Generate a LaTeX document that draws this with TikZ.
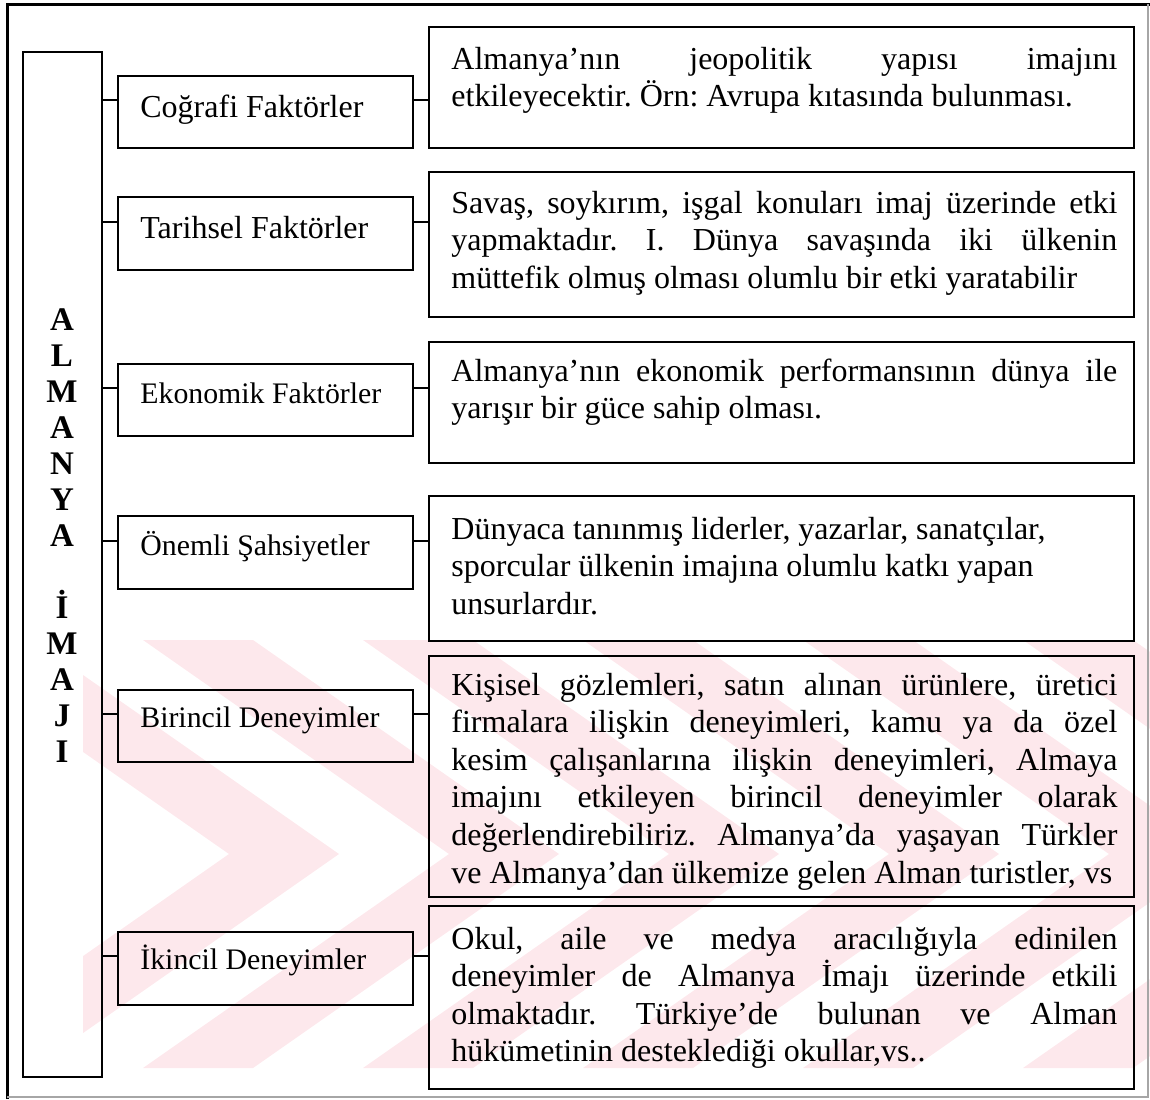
\documentclass[tikz,border=0pt]{standalone}
\usepackage{fontspec}
\setmainfont{Liberation Serif}
\usetikzlibrary{fit}
\definecolor{wmark}{RGB}{253,232,236}
\newlength\bw
\setlength\bw{333pt}
% one justified line of a text box
\newcommand\jl[1]{\makebox[\bw][s]{\spaceskip=0pt\xspaceskip=0pt\relax #1}}

\begin{document}
\begin{tikzpicture}[x=0.5pt,y=-0.5pt,
  frame/.style={draw, line width=1.4pt, inner sep=0pt},
  stub/.style={line width=1.1pt},
  outer/.style={line width=1.5pt},
  lbl/.style={anchor=base west, inner sep=0pt, font=\fontsize{16}{18.8}\selectfont},
  lbls/.style={anchor=base west, inner sep=0pt, font=\fontsize{14.9}{18}\selectfont},
  body/.style={anchor=base west, inner sep=0pt, text width=345pt, align=left,
               font=\fontsize{16}{18.8}\selectfont\frenchspacing,
               execute at begin node={\spaceskip=0pt\xspaceskip=0pt\frenchspacing}},
  vl/.style={anchor=base, inner sep=0pt, font=\fontsize{16.5}{16.5}\selectfont\bfseries}]
\useasboundingbox (0,0) rectangle (1150,1099);

% pale chevron band pattern at the foot of the page
\begin{scope}
  \clip (83,640) rectangle (1150,1068);
  \foreach \a in {33,253,473,693,913,1133}
    \fill[wmark] (\a,640) -- (\a+306,854) -- (\a,1068) -- (\a-110,1068)
                 -- (\a+196,854) -- (\a-110,640) -- cycle;
\end{scope}

% outer frame
\draw[outer] (7,1099) -- (7,4) -- (1150,4);
\draw[line width=0.8pt, black!35] (1148,4) -- (1148,1097) -- (7,1097);

% title column
\node[frame, fit={(23,52) (102,1077)}] (L) {};
\foreach \ch [count=\i] in {A,L,M,A,N,Y,A,{},İ,M,A,J,I}
  \node[vl] (v\i) at (62,330+36*\i-36) {\ch};

% factor boxes
\node[frame, fit={(118,76) (413,148)}]  (m1) {};
\node[frame, fit={(118,197) (413,270)}] (m2) {};
\node[frame, fit={(118,364) (413,436)}] (m3) {};
\node[frame, fit={(118,516) (413,589)}] (m4) {};
\node[frame, fit={(118,690) (413,762)}] (m5) {};
\node[frame, fit={(118,932) (413,1005)}] (m6) {};

\node[lbl]  (n1) at (140,117) {Coğrafi Faktörler};
\node[lbl]  (n2) at (140,238) {Tarihsel Faktörler};
\node[lbls] (n3) at (140,403) {Ekonomik Faktörler};
\node[lbls] (n4) at (140,555) {Önemli Şahsiyetler};
\node[lbls] (n5) at (140,727) {Birincil Deneyimler};
\node[lbls] (n6) at (140,969) {İkincil Deneyimler};

% description boxes
\node[frame, fit={(429,27) (1134,148)}]  (r1) {};
\node[frame, fit={(429,172) (1134,317)}] (r2) {};
\node[frame, fit={(429,342) (1134,463)}] (r3) {};
\node[frame, fit={(429,496) (1134,641)}] (r4) {};
\node[frame, fit={(429,656) (1134,897)}] (r5) {};
\node[frame, fit={(429,906) (1134,1089)}] (r6) {};

\node[body] (t1) at (451,69) {\jl{Almanya’nın jeopolitik yapısı imajını}\\
  etkileyecektir. Örn: Avrupa kıtasında bulunması.};
\node[body] (t2) at (451,213) {\jl{Savaş, soykırım, işgal konuları imaj üzerinde etki}\\
  \jl{yapmaktadır. I. Dünya savaşında iki ülkenin}\\
  müttefik olmuş olması olumlu bir etki yaratabilir};
\node[body] (t3) at (451,381) {\jl{Almanya’nın ekonomik performansının dünya ile}\\
  yarışır bir güce sahip olması.};
\node[body] (t4) at (451,539) {Dünyaca tanınmış liderler, yazarlar, sanatçılar,\\
  sporcular ülkenin imajına olumlu katkı yapan\\
  unsurlardır.};
\node[body] (t5) at (451,695) {\jl{Kişisel gözlemleri, satın alınan ürünlere, üretici}\\
  \jl{firmalara ilişkin deneyimleri, kamu ya da özel}\\
  \jl{kesim çalışanlarına ilişkin deneyimleri, Almaya}\\
  \jl{imajını etkileyen birincil deneyimler olarak}\\
  \jl{değerlendirebiliriz. Almanya’da yaşayan Türkler}\\
  ve Almanya’dan ülkemize gelen Alman turistler, vs};
\node[body] (t6) at (451,949) {\jl{Okul, aile ve medya aracılığıyla edinilen}\\
  \jl{deneyimler de Almanya İmajı üzerinde etkili}\\
  \jl{olmaktadır. Türkiye’de bulunan ve Alman}\\
  hükümetinin desteklediği okullar,vs..};

% connectors
\foreach \i/\y in {1/100,2/222,3/388,4/541,5/714,6/956} {
  \coordinate (s\i) at (0,\y);
  \draw[stub] (L.east |- s\i) -- (m\i.west |- s\i);
  \draw[stub] (m\i.east |- s\i) -- (r\i.west |- s\i);
}
\end{tikzpicture}
\end{document}
